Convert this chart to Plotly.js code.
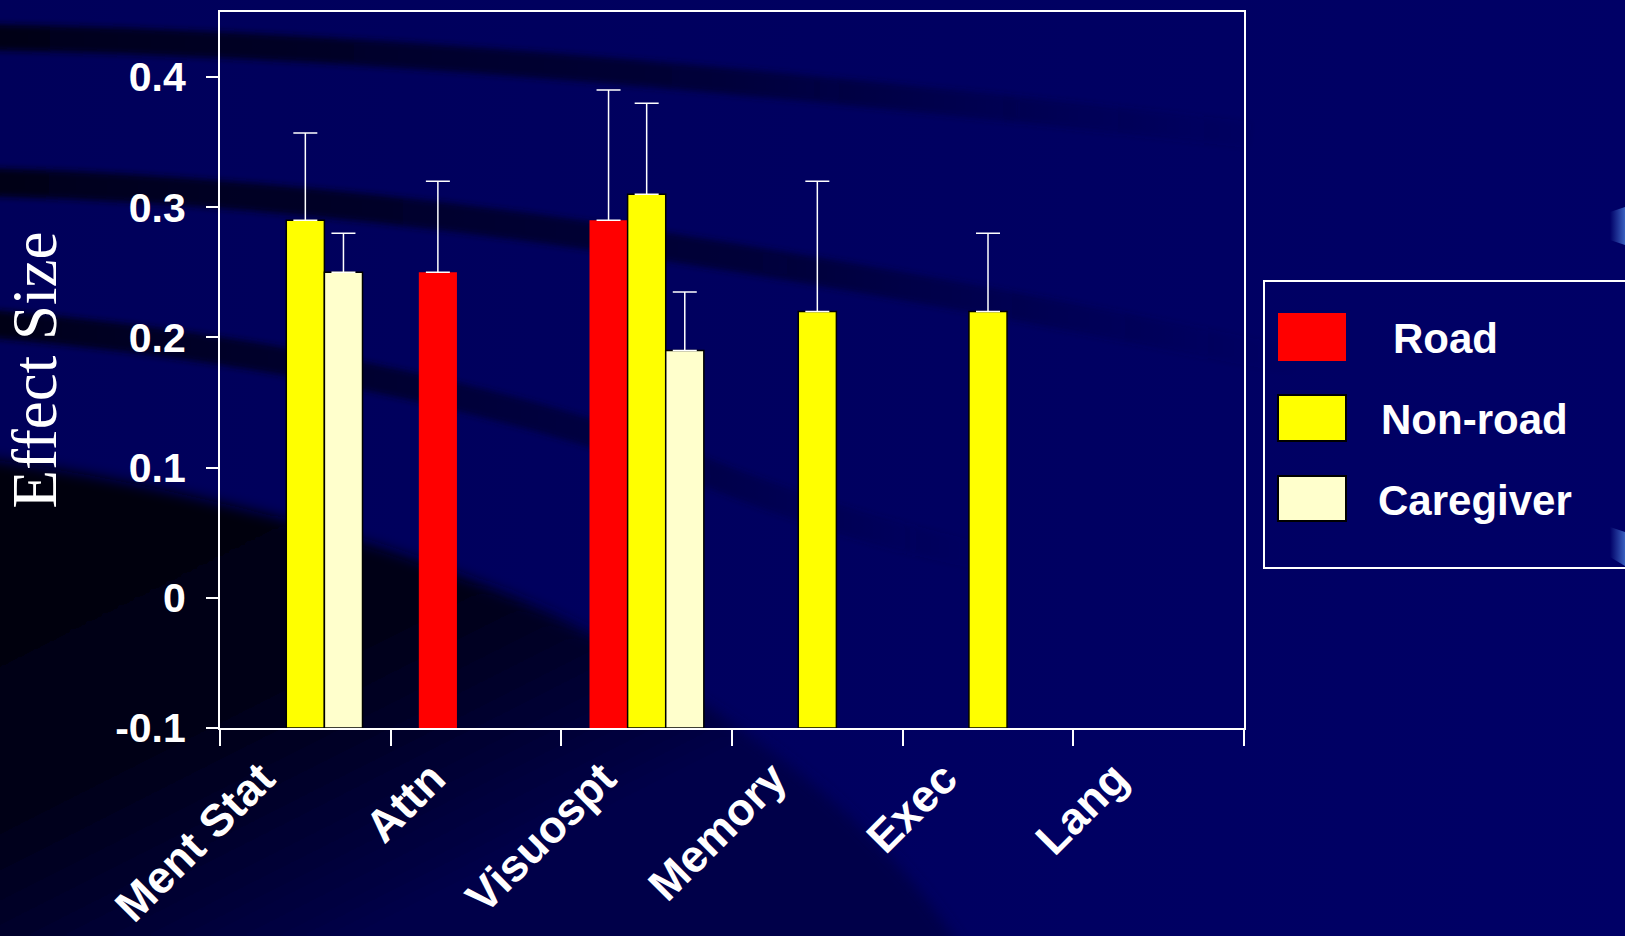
<!DOCTYPE html>
<html>
<head>
<meta charset="utf-8">
<script src="https://cdn.plot.ly/plotly-3.0.1.min.js"></script>
<style>
  html, body { margin:0; padding:0; width:1625px; height:936px; overflow:hidden; background:#000060; }
  #bg { position:absolute; left:0; top:0; }
  #chart { position:absolute; left:0; top:0; width:1625px; height:936px; }
</style>
</head>
<body>
<svg id="bg" width="1625" height="936" xmlns="http://www.w3.org/2000/svg">
  <defs>
    <linearGradient id="base" x1="0" y1="0" x2="1" y2="0">
      <stop offset="0" stop-color="#00005a"/>
      <stop offset="1" stop-color="#000066"/>
    </linearGradient>
    <linearGradient id="fadeA" gradientUnits="userSpaceOnUse" x1="0" y1="0" x2="1300" y2="0">
      <stop offset="0" stop-color="#000018" stop-opacity="1"/>
      <stop offset="0.55" stop-color="#00002c" stop-opacity="0.75"/>
      <stop offset="1" stop-color="#000040" stop-opacity="0"/>
    </linearGradient>
    <linearGradient id="fadeB" gradientUnits="userSpaceOnUse" x1="0" y1="0" x2="1300" y2="0">
      <stop offset="0" stop-color="#000018" stop-opacity="1"/>
      <stop offset="0.6" stop-color="#00002c" stop-opacity="0.7"/>
      <stop offset="1" stop-color="#000040" stop-opacity="0"/>
    </linearGradient>
    <linearGradient id="fadeC" gradientUnits="userSpaceOnUse" x1="0" y1="0" x2="1000" y2="0">
      <stop offset="0" stop-color="#000018" stop-opacity="1"/>
      <stop offset="0.6" stop-color="#00002c" stop-opacity="0.6"/>
      <stop offset="1" stop-color="#000040" stop-opacity="0"/>
    </linearGradient>
    <linearGradient id="darkD" gradientUnits="userSpaceOnUse" x1="150" y1="480" x2="380" y2="936">
      <stop offset="0" stop-color="#00000e"/>
      <stop offset="0.45" stop-color="#000016"/>
      <stop offset="1" stop-color="#00004a"/>
    </linearGradient>
    <linearGradient id="hl" x1="0" y1="0" x2="1" y2="0">
      <stop offset="0" stop-color="#000066"/>
      <stop offset="1" stop-color="#3a60c0"/>
    </linearGradient>
    <filter id="blur" x="-10%" y="-50%" width="120%" height="200%"><feGaussianBlur stdDeviation="3"/></filter>
    <filter id="blurD" x="-20%" y="-20%" width="140%" height="140%"><feGaussianBlur stdDeviation="7"/></filter>
  </defs>
  <rect width="1625" height="936" fill="url(#base)"/>
  <path d="M-20,458 C 200,488 450,555 600,640 C 750,728 880,820 962,950 L-20,950 Z" fill="url(#darkD)" filter="url(#blurD)"/>
  <path d="M-20,37 C 300,42 700,72 1250,135" stroke="url(#fadeA)" stroke-width="26" fill="none" filter="url(#blur)"/>
  <path d="M-20,182 C 300,190 650,230 1300,362" stroke="url(#fadeB)" stroke-width="28" fill="none" filter="url(#blur)"/>
  <path d="M-20,323 C 250,345 500,395 700,470 C 800,510 900,540 1000,560" stroke="url(#fadeC)" stroke-width="28" fill="none" filter="url(#blur)"/>
  <path d="M1610,212 L1625,207 L1625,245 L1610,240 Z" fill="url(#hl)"/>
  <path d="M1610,527 L1625,532 L1625,566 L1610,557 Z" fill="url(#hl)"/>
</svg>
<div id="chart"></div>
<script>
// ---- data ----
const categories = ["Ment Stat", "Attn", "Visuospt", "Memory", "Exec", "Lang"];
const seriesNames = ["Road", "Non-road", "Caregiver"];
const roadValues      = [null, 0.25, 0.29, null, null, null];
const roadErrors      = [null, 0.07, 0.10, null, null, null];
const nonroadValues   = [0.29, null, 0.31, 0.22, 0.22, null];
const nonroadErrors   = [0.067, null, 0.07, 0.10, 0.06, null];
const caregiverValues = [0.25, null, 0.19, null, null, null];
const caregiverErrors = [0.03, null, 0.045, null, null, null];
const yTickVals  = [-0.1, 0, 0.1, 0.2, 0.3, 0.4];
const yTickText  = ["-0.1", "0", "0.1", "0.2", "0.3", "0.4"];
const yTitle = "Effect Size";

// ---- style ----
const colors = ["#ff0000", "#ffff00", "#ffffcc"];
const outlines = [0, 1.5, 1.5];
const barBase = -0.1;
const W = 1625, H = 936;
const M = {l: 220, r: 381, t: 12, b: 208};
const PW = W - M.l - M.r, PH = H - M.t - M.b;
const px = x => (x - M.l) / PW;
const py = y => (H - M.b - y) / PH;

const valueSets = [roadValues, nonroadValues, caregiverValues];
const errorSets = [roadErrors, nonroadErrors, caregiverErrors];

const traces = valueSets.map((vals, i) => ({
  type: "bar",
  name: seriesNames[i],
  x: categories,
  y: vals.map(v => v == null ? null : v - barBase),
  base: barBase,
  customdata: vals,
  hovertemplate: "%{x}: %{customdata}<extra>" + seriesNames[i] + "</extra>",
  marker: {color: colors[i], line: {color: "#000000", width: outlines[i]}},
  error_y: {
    type: "data", symmetric: false,
    array: errorSets[i],
    arrayminus: errorSets[i].map(e => e == null ? null : 0),
    color: "#ffffff", thickness: 1.5, width: 12
  },
  showlegend: false
}));

// custom legend
const legBox = {x0: 1264, x1: 1650, y0: 281, y1: 568};
const swX = [1278, 1346];
const swY = [[313, 361], [395, 441], [476, 521]];
const txtX = [1391, 1379, 1376];
const shapes = [{
  type: "rect", xref: "paper", yref: "paper",
  x0: px(legBox.x0), x1: px(legBox.x1), y0: py(legBox.y1), y1: py(legBox.y0),
  line: {color: "#ffffff", width: 2}, fillcolor: "rgba(0,0,0,0)"
}];
const annotations = [];
seriesNames.forEach((nm, i) => {
  shapes.push({
    type: "rect", xref: "paper", yref: "paper",
    x0: px(swX[0]), x1: px(swX[1]), y0: py(swY[i][1]), y1: py(swY[i][0]),
    fillcolor: colors[i],
    line: {color: "#000000", width: outlines[i] ? 2 : 0}
  });
  annotations.push({
    xref: "paper", yref: "paper", x: px(txtX[i]), y: py((swY[i][0] + swY[i][1]) / 2 + 2),
    xanchor: "left", yanchor: "middle", showarrow: false, text: nm,
    font: {family: "Liberation Sans, Arial, sans-serif", size: 42, color: "#ffffff", weight: "bold"}
  });
});

const layout = {
  width: W, height: H,
  margin: M,
  paper_bgcolor: "rgba(0,0,0,0)",
  plot_bgcolor: "rgba(0,0,0,0)",
  barmode: "group",
  bargap: 0.33,
  bargroupgap: 0,
  showlegend: false,
  xaxis: {
    type: "category",
    range: [-0.5, 5.5],
    tickson: "boundaries",
    ticks: "outside", ticklen: 16, tickwidth: 2, tickcolor: "#ffffff",
    showline: true, linecolor: "#ffffff", linewidth: 2, mirror: true,
    showgrid: false, zeroline: false,
    tickangle: -45,
    ticklabelshift: -44,
    ticklabelstandoff: 4,
    tickfont: {family: "Liberation Sans, Arial, sans-serif", size: 45, color: "#ffffff", weight: "bold"},
    automargin: false
  },
  yaxis: {
    range: [-0.1, 0.45],
    tickvals: yTickVals, ticktext: yTickText,
    ticks: "outside", ticklen: 12, tickwidth: 2, tickcolor: "#ffffff",
    showline: true, linecolor: "#ffffff", linewidth: 2, mirror: true,
    showgrid: false, zeroline: false,
    ticklabelstandoff: 12,
    tickfont: {family: "Liberation Sans, Arial, sans-serif", size: 41, color: "#ffffff", weight: "bold"},
    title: {text: yTitle, standoff: 50,
      font: {family: "Liberation Serif, Times New Roman, serif", size: 63, color: "#ffffff"}},
    automargin: false
  },
  shapes: shapes,
  annotations: annotations
};

Plotly.newPlot("chart", traces, layout, {displayModeBar: false, staticPlot: true});
</script>
</body>
</html>
